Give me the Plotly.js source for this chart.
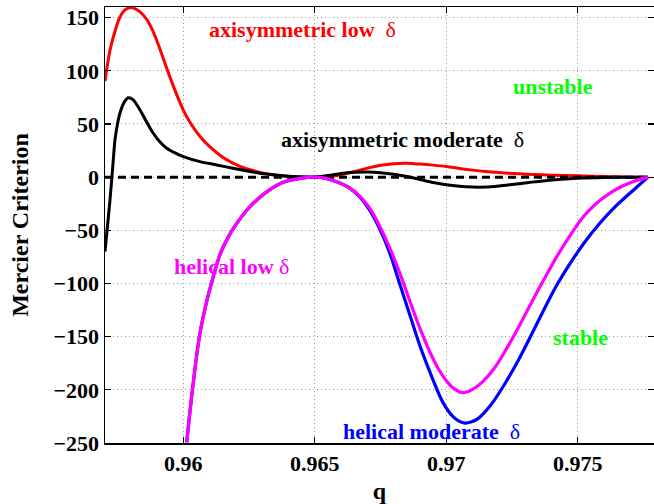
<!DOCTYPE html>
<html>
<head>
<meta charset="utf-8">
<script src="https://cdn.plot.ly/plotly-3.0.1.min.js"></script>
<style>html,body{margin:0;padding:0;background:#fff;}#chart{width:654px;height:504px;}</style>
</head>
<body>
<div id="chart"></div>
<script>
// axisymmetric low delta (red)
const qRed = [0.957023, 0.957213, 0.957403, 0.957593, 0.957783, 0.957973, 0.958163, 0.958354, 0.958608, 0.958848, 0.959114, 0.959342, 0.959608, 0.960000, 0.960319, 0.960635, 0.961015, 0.961586, 0.962156, 0.962764, 0.963411, 0.964057, 0.965000,
              0.9655, 0.9660, 0.9665, 0.9670, 0.9675, 0.9680, 0.9685, 0.9690, 0.9695, 0.9700, 0.9705, 0.9710, 0.9715, 0.9720, 0.9725, 0.9730, 0.9740, 0.9750, 0.9760, 0.9770, 0.97767];
const mRed = [90.3, 119.3, 137.2, 150.6, 157.3, 159.4, 158.4, 155.4, 148.4, 137.2, 120.3, 104.3, 86.5, 63.1, 49.0, 38.3, 28.4, 17.2, 10.1, 5.4, 2.2, 0.6, 0,
              0.5, 2.3, 5.0, 8.5, 11.2, 12.7, 13.0, 12.3, 11.3, 10.0, 8.2, 6.6, 5.3, 4.3, 3.5, 2.8, 1.9, 1.2, 0.6, 0.2, 0];

// axisymmetric moderate delta (black)
const qBlack = [0.957023, 0.957118, 0.957213, 0.957308, 0.957403, 0.957498, 0.957593, 0.957745, 0.957909, 0.958087, 0.958354, 0.958608, 0.958859, 0.959114, 0.959369, 0.959684, 0.960000, 0.960635, 0.961270, 0.961890, 0.962536, 0.963106, 0.963677, 0.964323, 0.965000,
                0.9655, 0.9660, 0.9665, 0.9670, 0.9675, 0.9680, 0.9685, 0.9690, 0.9695, 0.9700, 0.9705, 0.9710, 0.9715, 0.9720, 0.9725, 0.9730, 0.9735, 0.9740, 0.9745, 0.9750, 0.9760, 0.9770, 0.97767];
const mBlack = [-70.0, -45.7, -21.3, 6.8, 35.0, 50.0, 60.3, 70.1, 74.6, 72.9, 63.1, 51.8, 41.3, 33.1, 27.2, 22.8, 19.3, 14.6, 11.5, 8.3, 5.3, 3.1, 1.5, 0.4, 0,
                1.5, 3.5, 4.5, 4.8, 4.2, 2.8, 0.6, -2.2, -5.0, -7.2, -8.6, -9.3, -9.3, -8.3, -6.9, -5.4, -4.0, -2.8, -1.8, -1.0, -0.35, -0.05, 0];

// helical low delta (magenta)
const qMag = [0.960129, 0.960350, 0.960616, 0.960863, 0.961110, 0.961395, 0.961738, 0.962080, 0.962460, 0.962802, 0.963171, 0.963802, 0.964437, 0.965000,
              0.965388, 0.965833, 0.966338, 0.966719, 0.967099, 0.967479, 0.967859, 0.968240, 0.968620, 0.969000, 0.969380, 0.969684, 0.970015, 0.970293, 0.970586,
              0.970863, 0.971129, 0.971407, 0.971852, 0.972297, 0.972802, 0.973259, 0.973753, 0.974247, 0.974703, 0.975209, 0.975692, 0.976224, 0.976681, 0.977110, 0.977669];
const mMag = [-249.4, -199.4, -149.4, -119.7, -96.3, -72.8, -55.0, -41.9, -29.7, -21.3, -13.8, -4.9, -1.1, 0,
              -0.9, -4.4, -10.3, -18.0, -29.7, -46.6, -67.2, -90.7, -116.9, -142.2, -164.7, -179.7, -191.9, -198.9, -202.5,
              -201.3, -197.5, -191.9, -178.8, -161.0, -138.5, -116.9, -94.4, -72.8, -55.0, -37.2, -25.0, -15.0, -8.6, -4.1, 0];

// helical moderate delta (blue)
const qBlue = [0.960129, 0.960350, 0.960616, 0.960863, 0.961110, 0.961395, 0.961738, 0.962080, 0.962460, 0.962802, 0.963171, 0.963802, 0.964437, 0.965000,
               0.965388, 0.965833, 0.966338, 0.966719, 0.967099, 0.967479, 0.967859, 0.968175, 0.968620, 0.969000, 0.969456, 0.969886, 0.970255, 0.970483, 0.970711,
               0.970939, 0.971205, 0.971662, 0.972156, 0.972677, 0.973183, 0.973677, 0.974171, 0.974703, 0.975274, 0.975844, 0.976376, 0.976871, 0.977365, 0.977669];
const mBlue = [-249.4, -199.4, -149.4, -119.7, -96.3, -72.8, -55.0, -41.9, -29.7, -21.3, -13.8, -4.9, -1.1, 0,
               -0.9, -4.4, -10.5, -18.9, -31.6, -49.4, -71.9, -96.3, -130.0, -158.8, -188.2, -212.5, -225.2, -229.4, -231.3,
               -230.3, -227.1, -215.3, -197.1, -175.0, -150.7, -126.3, -102.8, -81.3, -60.7, -43.1, -28.8, -17.5, -6.75, 0];

// zero reference line
const qZero = [0.957023, 0.977669];
const mZero = [0, 0];

const xTicks = [0.96, 0.965, 0.97, 0.975];
const xTickText = ['0.96', '0.965', '0.97', '0.975'];
const yTicks = [-250, -200, -150, -100, -50, 0, 50, 100, 150];
const yTickText = ['\u2212250', '\u2212200', '\u2212150', '\u2212100', '\u221250', '0', '50', '100', '150'];

const labels = [
  {text: '<b>axisymmetric low</b>\u00a0\u00a0δ', x: 0.960939, y: 139, color: '#ff0000'},
  {text: '<b>unstable</b>', x: 0.972498, y: 85.6, color: '#00ff00'},
  {text: '<b>axisymmetric moderate</b>\u00a0\u00a0δ', x: 0.963677, y: 35, color: '#000000'},
  {text: '<b>helical low</b>\u00a0δ', x: 0.959597, y: -83.8, color: '#ff00ff'},
  {text: '<b>stable</b>', x: 0.974020, y: -150.7, color: '#00ff00'},
  {text: '<b>helical moderate</b>\u00a0\u00a0δ', x: 0.966034, y: -238.8, color: '#0000ff'}
];

const FONT = 'Liberation Serif';

const traces = [
  {x: qRed, y: mRed, mode: 'lines', line: {color: '#ff0000', width: 3, shape: 'spline', smoothing: 1}},
  {x: qBlack, y: mBlack, mode: 'lines', line: {color: '#000000', width: 3, shape: 'spline', smoothing: 0.8}},
  {x: qZero, y: mZero, mode: 'lines', line: {color: '#000000', width: 3, dash: '8px,5px'}},
  {x: qBlue, y: mBlue, mode: 'lines', line: {color: '#0000ff', width: 3.2, shape: 'spline', smoothing: 1}},
  {x: qMag, y: mMag, mode: 'lines', line: {color: '#ff00ff', width: 3.2, shape: 'spline', smoothing: 1}}
];

const axisCommon = {
  showline: true, linecolor: '#000', linewidth: 1.5, mirror: 'allticks',
  ticks: 'inside', ticklen: 6, tickwidth: 1.2, tickcolor: '#000',
  showgrid: true, gridcolor: '#9a9a9a', gridwidth: 1, griddash: '1px,3px',
  zeroline: false,
  tickfont: {family: FONT, size: 22, color: '#000', weight: 'bold'}
};

const layout = {
  width: 654, height: 504,
  margin: {l: 105, r: 0, t: 7, b: 61, pad: 0},
  paper_bgcolor: '#fff', plot_bgcolor: '#fff',
  font: {family: FONT, color: '#000'},
  showlegend: false,
  xaxis: Object.assign({}, axisCommon, {
    range: [0.957023, 0.977897], tickvals: xTicks, ticktext: xTickText,
    title: {text: 'q', font: {family: FONT, size: 24, color: '#000', weight: 'bold'}, standoff: 8}
  }),
  yaxis: Object.assign({}, axisCommon, {
    range: [-250, 160], tickvals: yTicks, ticktext: yTickText,
    title: {text: 'Mercier Criterion', font: {family: FONT, size: 24, color: '#000', weight: 'bold'}, standoff: 18}
  }),
  annotations: labels.map(l => ({
    text: l.text, x: l.x, y: l.y, xref: 'x', yref: 'y', xanchor: 'left', yanchor: 'middle',
    showarrow: false, font: {family: FONT, size: 22, color: l.color}, borderpad: 0
  }))
};

Plotly.newPlot('chart', traces, layout, {staticPlot: true, displayModeBar: false});
</script>
</body>
</html>
